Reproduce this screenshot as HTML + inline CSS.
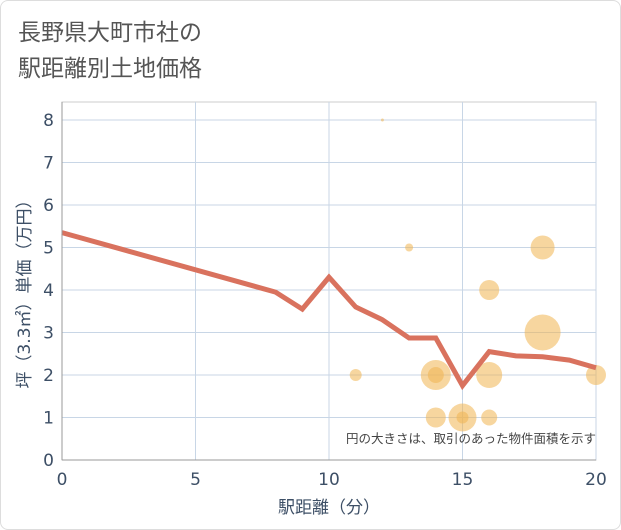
<!DOCTYPE html>
<html><head><meta charset="utf-8"><style>
body{margin:0;background:#fff;}
.wrap{position:relative;width:619px;height:528px;border:1px solid #ddd;border-radius:8px;overflow:hidden;background:#fff;font-family:"Liberation Sans","Noto Sans CJK JP",sans-serif;}
</style></head><body>
<div class="wrap">
<svg width="621" height="530" style="position:absolute;left:-1px;top:-1px">
<text x="18" y="40" font-size="23" fill="#555" font-family="DejaVu Sans,Noto Sans CJK JP,sans-serif">長野県大町市社の</text>
<text x="18" y="76" font-size="23" fill="#555" font-family="DejaVu Sans,Noto Sans CJK JP,sans-serif">駅距離別土地価格</text>
<g id="grid"></g>
<g id="bubbles"></g>
<g id="line"></g>
<g id="axes" font-family="DejaVu Sans,sans-serif"></g>
<text x="596" y="443" font-size="12.5" fill="#444" text-anchor="end" font-family="DejaVu Sans,Noto Sans CJK JP,sans-serif">円の大きさは、取引のあった物件面積を示す</text>
<text x="329" y="513" font-size="17" fill="#3d4f66" text-anchor="middle" font-family="DejaVu Sans,Noto Sans CJK JP,sans-serif">駅距離（分）</text>
<text transform="translate(30,290) rotate(-90)" font-size="17" fill="#3d4f66" text-anchor="middle" font-family="DejaVu Sans,Noto Sans CJK JP,sans-serif">坪（3.3㎡）単価（万円）</text>
</svg>
</div>
<script>
const xTicks=[0,5,10,15,20];
const yTicks=[0,1,2,3,4,5,6,7,8];
const lineX=[0,8,9,10,11,12,13,14,15,16,17,18,19,20];
const lineY=[5.35,3.95,3.55,4.3,3.6,3.3,2.87,2.87,1.75,2.55,2.45,2.43,2.35,2.17];
const bubX=[12,13,18,16,18,11,14,14,16,20,14,15,15,16];
const bubY=[8,5,5,4,3,2,2,2,2,2,1,1,1,1];
const bubR=[1.5,4,12,10,18,6,15,8,13,10,10,14,6,8];
const NS="http://www.w3.org/2000/svg";
const X0=62,X1=596,Y0=460,Y1=120;
const sx=v=>X0+(X1-X0)*v/20, sy=v=>Y0-(Y0-Y1)*v/8;
function mk(t,a,p){const e=document.createElementNS(NS,t);for(const k in a)e.setAttribute(k,a[k]);p.appendChild(e);return e;}
const grid=document.getElementById('grid'),axes=document.getElementById('axes');
mk('rect',{x:X0,y:102,width:X1-X0,height:Y0-102,fill:'none',stroke:'#ccc'},grid);
for(const t of yTicks){const l=mk('line',{x1:X0,x2:X1,y1:sy(t),y2:sy(t),stroke:'#c8d6e6'},grid);


const tx=mk('text',{x:X0-8,y:sy(t)+6,'font-size':17,fill:'#3d4f66','text-anchor':'end'},axes);tx.textContent=t;

}
for(const t of xTicks){const l=mk('line',{x1:sx(t),x2:sx(t),y1:102,y2:Y0,stroke:'#c8d6e6'},grid);


const tx=mk('text',{x:sx(t),y:Y0+25,'font-size':17,fill:'#3d4f66','text-anchor':'middle'},axes);tx.textContent=t;

}
mk('line',{x1:X0,x2:X1,y1:Y0,y2:Y0,stroke:'#999'},axes);
mk('line',{x1:X0,x2:X0,y1:102,y2:Y0,stroke:'#999'},axes);
const bg=document.getElementById('bubbles');
bubX.forEach((x,i)=>{const c=mk('circle',{cx:sx(x),cy:sy(bubY[i]),r:bubR[i],fill:'rgba(240,180,80,0.55)'},bg);

});
const pts=lineX.map((x,i)=>sx(x)+','+sy(lineY[i])).join(' ');
const pl=mk('polyline',{points:pts,fill:'none',stroke:'#d9725e','stroke-width':5,'stroke-linejoin':'miter'},document.getElementById('line'));


</script>
</body></html>
